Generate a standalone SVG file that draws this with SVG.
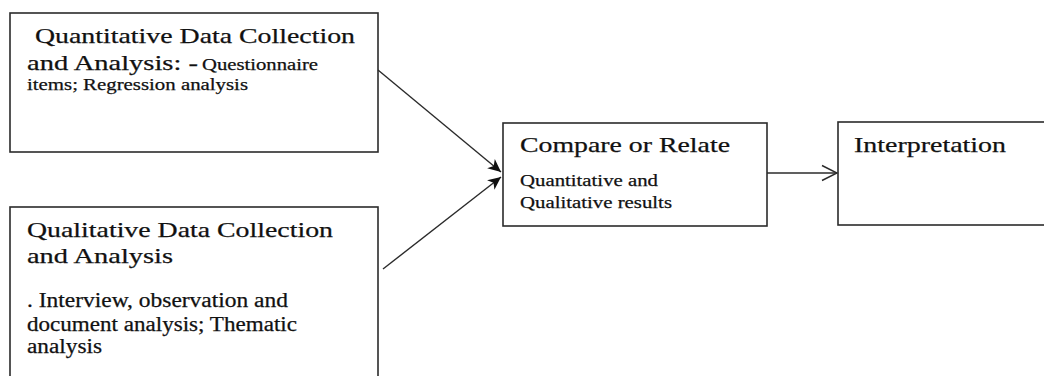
<svg xmlns="http://www.w3.org/2000/svg" width="1044" height="376" viewBox="0 0 1044 376">
<style>
.box{fill:#fff;stroke:#2b2b2b;stroke-width:1.6}
.t{font-family:"Liberation Serif","Times New Roman",serif;fill:#111;stroke:#111;stroke-width:0.25}
.h{font-size:22px}
.b{font-size:20px}
.s{font-size:17px}
.c{stroke:#2b2b2b;stroke-width:1.4;fill:none}
</style>
<defs>
<marker id="fa" markerUnits="userSpaceOnUse" markerWidth="16" markerHeight="14" refX="13" refY="7" orient="auto">
<path d="M0,1 L13,7 L0,13 L3.5,7 Z" fill="#111"/>
</marker>
<marker id="oa" markerUnits="userSpaceOnUse" markerWidth="18" markerHeight="18" refX="16" refY="9" orient="auto">
<path d="M1,1.5 L16,9 L1,16.5" fill="none" stroke="#2b2b2b" stroke-width="1.4"/>
</marker>
</defs>
<g id="quantitative">
<rect class="box" x="10" y="13" width="368" height="139"/>
<text class="t h" x="35" y="43" textLength="320" lengthAdjust="spacingAndGlyphs">Quantitative Data Collection</text>
<text class="t h" x="27" y="70" textLength="171" lengthAdjust="spacingAndGlyphs">and Analysis: -</text>
<text class="t s" x="202" y="70" textLength="116" lengthAdjust="spacingAndGlyphs">Questionnaire</text>
<text class="t s" x="27" y="90" textLength="221" lengthAdjust="spacingAndGlyphs">items; Regression analysis</text>
</g>
<g id="qualitative">
<rect class="box" x="10" y="207" width="368" height="190"/>
<text class="t h" x="27" y="237" textLength="306" lengthAdjust="spacingAndGlyphs">Qualitative Data Collection</text>
<text class="t h" x="27" y="263" textLength="146" lengthAdjust="spacingAndGlyphs">and Analysis</text>
<text class="t b" x="27" y="307" textLength="261" lengthAdjust="spacingAndGlyphs">. Interview, observation and</text>
<text class="t b" x="27" y="331" textLength="270" lengthAdjust="spacingAndGlyphs">document analysis; Thematic</text>
<text class="t b" x="27" y="353" textLength="75" lengthAdjust="spacingAndGlyphs">analysis</text>
</g>
<g id="compare">
<rect class="box" x="503" y="123" width="264" height="103"/>
<text class="t h" x="520" y="152" textLength="210" lengthAdjust="spacingAndGlyphs">Compare or Relate</text>
<text class="t s" x="520" y="186" textLength="138" lengthAdjust="spacingAndGlyphs">Quantitative and</text>
<text class="t s" x="520" y="208" textLength="152" lengthAdjust="spacingAndGlyphs">Qualitative results</text>
</g>
<g id="interpretation">
<rect class="box" x="838" y="122" width="220" height="103"/>
<text class="t h" x="854" y="152" textLength="152" lengthAdjust="spacingAndGlyphs">Interpretation</text>
</g>
<g id="connectors">
<line class="c" x1="378" y1="70" x2="501" y2="172" marker-end="url(#fa)"/>
<line class="c" x1="383" y1="269" x2="501" y2="177" marker-end="url(#fa)"/>
<line class="c" x1="767" y1="173" x2="837" y2="173" marker-end="url(#oa)"/>
</g>
</svg>
